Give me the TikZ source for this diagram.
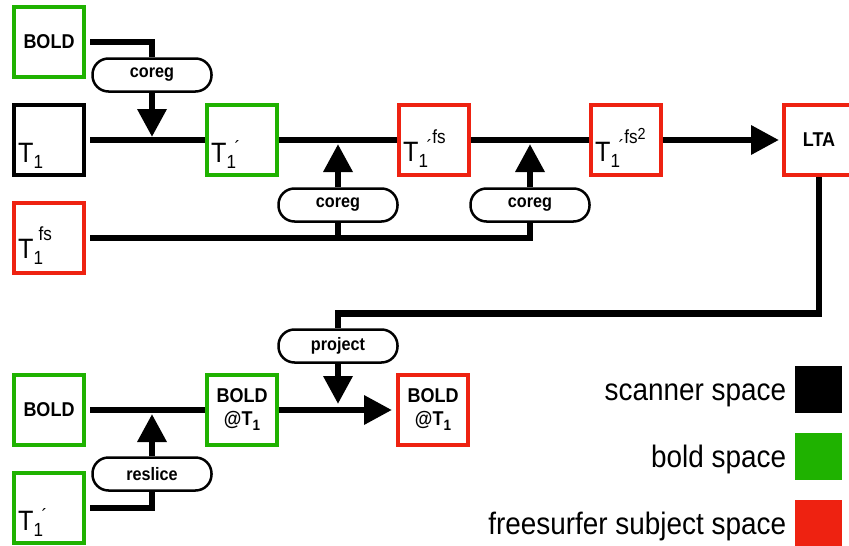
\documentclass[tikz,border=0pt]{standalone}
\usepackage{fontspec}
\setmainfont{Liberation Sans}[FakeStretch=0.9]
\usetikzlibrary{arrows.meta,positioning}
\definecolor{boldgreen}{RGB}{31,178,0}
\definecolor{fsred}{RGB}{238,34,17}
\newcommand{\supf}{\fontsize{19}{19}\selectfont}
\newcommand{\subone}{\rlap{\raisebox{-6pt}{\supf 1}}}
\newcommand{\primemark}{\kern8pt\raisebox{8pt}{\supf ´}}
\newcommand{\fsmark}{\raisebox{18pt}{\supf fs}}
\newcommand{\atone}{@T\raisebox{-5pt}{\fontsize{15}{15}\selectfont 1}}

\tikzset{
  spacebox/.style={draw=#1,line width=4pt,minimum size=70pt,inner sep=0pt,
    font=\fontsize{20}{23}\selectfont\bfseries,align=center},
  tlabel/.style={anchor=base west,inner sep=0pt,font=\fontsize{28}{28}\selectfont},
  pill/.style={draw,line width=2.5pt,rounded corners=16pt,fill=white,
    minimum width=119pt,minimum height=33pt,inner sep=0pt,
    font=\fontsize{18}{18}\selectfont\bfseries},
  wire/.style={line width=6.5pt},
  feed/.style={wire,-{Triangle[length=28pt,width=28pt]}},
  legsq/.style={fill=#1,minimum size=47pt,inner sep=0pt},
  legtext/.style={inner sep=0pt,text height=28pt,text depth=6pt,
    font=\fontsize{31}{31}\selectfont},
}

\begin{document}
\begin{tikzpicture}[x=1pt,y=-1pt]
\path[use as bounding box] (0,0) rectangle (849,546);
% upper row
\node[spacebox=boldgreen] (bold1) at (49,42) {BOLD};
\node[spacebox=black] (t1) at (49,140) {};
\node[spacebox=fsred] (t1fs) at (49,238) {};
\node[spacebox=boldgreen] (t1p) at (242,140) {};
\node[spacebox=fsred] (t1pfs) at (434,140) {};
\node[spacebox=fsred] (t1pfs2) at (626,140) {};
\node[spacebox=fsred] (lta) at (819,140) {LTA};
\node[tlabel] at ([xshift=6pt,yshift=15pt]t1.south west) {T\subone};
\node[tlabel] at ([xshift=6pt,yshift=17pt]t1fs.south west) {T\subone\kern5pt\fsmark};
\node[tlabel] at ([xshift=6pt,yshift=15pt]t1p.south west) {T\subone\primemark};
\node[tlabel] at ([xshift=6pt,yshift=16pt]t1pfs.south west) {T\subone\primemark\fsmark};
\node[tlabel] at ([xshift=6pt,yshift=16pt]t1pfs2.south west) {T\subone\primemark\fsmark\raisebox{22pt}{\fontsize{16}{16}\selectfont 2}};
\node[pill] (coreg1) at (152,75) {coreg};
\node[pill] (coreg2) at (338,205) {coreg};
\node[pill] (coreg3) at (530,205) {coreg};
\coordinate (j1) at (152,137);
\coordinate (j2) at (338,144);
\coordinate (j3) at (530,144);
% lower row
\node[spacebox=boldgreen] (bold2) at (49,410) {BOLD};
\node[spacebox=boldgreen] (boldt1) at (242,410) {BOLD\\\atone};
\node[spacebox=fsred] (boldfs) at (433,410) {BOLD\\\atone};
\node[spacebox=boldgreen] (t1p2) at (49,508) {};
\node[tlabel] at ([xshift=6pt,yshift=15pt]t1p2.south west) {T\subone\primemark};
\node[pill] (project) at (338,346) {project};
\node[pill] (reslice) at (152,474) {reslice};
\coordinate (j4) at (338,404);
\coordinate (j5) at (152,414);
% connectors
\draw[wire,shorten <=4pt] (bold1.east) -| (coreg1.north);
\draw[feed] (coreg1.south) -- (j1);
\draw[wire,shorten <=4pt] (t1.east) -- (t1p.west);
\draw[wire] (t1p.east) -- (t1pfs.west);
\draw[wire] (t1pfs.east) -- (t1pfs2.west);
\draw[feed,shorten >=3pt] (t1pfs2.east) -- (lta.west);
\draw[wire,shorten <=4pt] (t1fs.east) -| (coreg3.south);
\draw[wire] (coreg2.south) -- (coreg2.south |- t1fs.east);
\draw[feed] (coreg2.north) -- (j2);
\draw[feed] (coreg3.north) -- (j3);
\draw[wire] (lta.south) |- ([yshift=15pt]project.north) -- (project.north);
\draw[feed] (project.south) -- (j4);
\draw[wire,shorten <=4pt] (bold2.east) -- (boldt1.west);
\draw[feed,shorten >=4pt] (boldt1.east) -- (boldfs.west);
\draw[wire,shorten <=4pt] (t1p2.east) -| (reslice.south);
\draw[feed] (reslice.north) -- (j5);
% legend
\node[legsq=black] (sqscan) at (818,389) {};
\node[legsq=boldgreen] (sqbold) at (818,456) {};
\node[legsq=fsred] (sqfs) at (818,523) {};
\node[legtext,left=8pt of sqscan] (lscan) {scanner space};
\node[legtext,left=8pt of sqbold] (lbold) {bold space};
\node[legtext,left=8pt of sqfs] (lfs) {freesurfer subject space};
\end{tikzpicture}
\end{document}
